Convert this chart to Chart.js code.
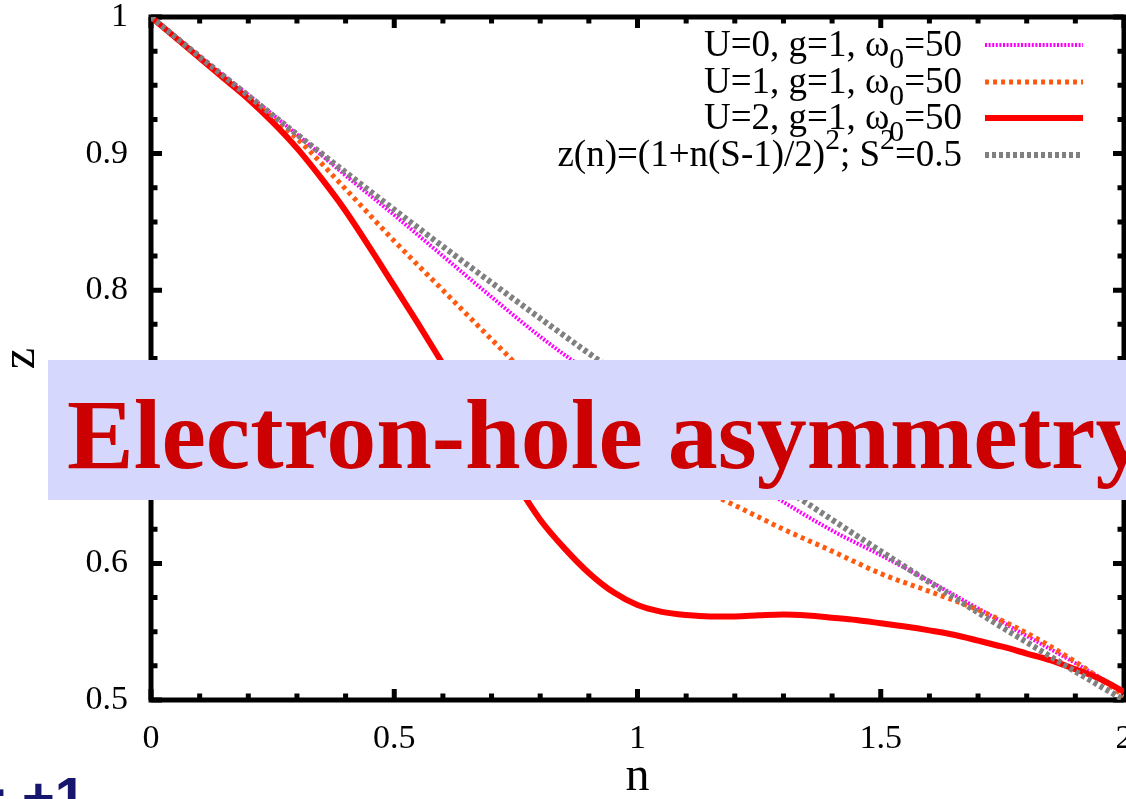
<!DOCTYPE html>
<html>
<head>
<meta charset="utf-8">
<script src="https://cdn.jsdelivr.net/npm/chart.js@4/dist/chart.umd.min.js"></script>
<style>
  html, body { margin: 0; padding: 0; background: #ffffff; overflow: hidden; }
  #wrap { position: relative; width: 1126px; height: 799px; }
  canvas { display: block; }
</style>
</head>
<body>
<div id="wrap"><canvas id="chart" width="1126" height="799"></canvas></div>
<script>
// Filling n on a common grid
const nGrid = [0.0, 0.1, 0.2, 0.3, 0.4, 0.5, 0.6, 0.7, 0.8, 0.9, 1.0,
               1.1, 1.2, 1.3, 1.4, 1.5, 1.6, 1.7, 1.8, 1.9, 2.0];

// Quasiparticle weight z(n), U = 0
const zU0 = [1.000, 0.971, 0.943, 0.914, 0.884, 0.855, 0.825, 0.795, 0.766, 0.740, 0.716,
             0.692, 0.668, 0.645, 0.624, 0.606, 0.587, 0.567, 0.547, 0.527, 0.506];

// U = 1
const zU1 = [1.000, 0.970, 0.941, 0.911, 0.874, 0.836, 0.800, 0.764, 0.729, 0.700, 0.6765,
             0.659, 0.6425, 0.625, 0.609, 0.5925, 0.5795, 0.566, 0.549, 0.528, 0.503];

// z(n) = (1 + n(S-1)/2)^2 with S^2 = 0.5
const zFit = [1.00000, 0.97093, 0.94228, 0.91406, 0.88627, 0.85891, 0.83198, 0.80548, 0.77941, 0.75377, 0.72855,
              0.70377, 0.67941, 0.65548, 0.63199, 0.60891, 0.58627, 0.56406, 0.54228, 0.52092, 0.50000];

// U = 2 on a finer grid (sharp knee near half filling)
const nFine = [0.00, 0.05, 0.10, 0.15, 0.20, 0.25, 0.30, 0.35, 0.40, 0.45, 0.50,
               0.55, 0.60, 0.65, 0.70, 0.75, 0.80, 0.85, 0.90, 0.95, 1.00,
               1.05, 1.10, 1.15, 1.20, 1.25, 1.30, 1.35, 1.40, 1.45, 1.50,
               1.55, 1.60, 1.65, 1.70, 1.75, 1.80, 1.85, 1.90, 1.95, 2.00];
const zU2 = [1.000, 0.985, 0.970, 0.955, 0.940, 0.923, 0.904, 0.882, 0.858, 0.831, 0.803,
             0.775, 0.746, 0.717, 0.688, 0.659, 0.632, 0.611, 0.593, 0.579, 0.5695,
             0.5645, 0.5622, 0.5612, 0.5612, 0.5620, 0.5626, 0.5618, 0.5602, 0.5585, 0.5562,
             0.5538, 0.5510, 0.5478, 0.5435, 0.5390, 0.5340, 0.5290, 0.5225, 0.5155, 0.5060];

// Axis tick labels
const xTickLabels = ['0', '0.5', '1', '1.5', '2'];
const yTickLabels = ['0.5', '0.6', '0.7', '0.8', '0.9', '1'];

// Legend entries: [text, shift] with shift -1 = subscript, 1 = superscript
const legendRows = [
  [['U=0, g=1, \u03c9', 0], ['0', -1], ['=50', 0]],
  [['U=1, g=1, \u03c9', 0], ['0', -1], ['=50', 0]],
  [['U=2, g=1, \u03c9', 0], ['0', -1], ['=50', 0]],
  [['z(n)=(1+n(S-1)/2)', 0], ['2', 1], ['; S', 0], ['2', 1], ['=0.5', 0]]
];

const overlayTitle = 'Electron-hole asymmetry';

function pts(xs, ys) { return xs.map((x, i) => ({ x: x, y: ys[i] })); }

const SERIF = '"Liberation Serif", "Times New Roman", serif';

const datasets = [
  { data: pts(nGrid, zU0), borderColor: '#ff00ff', borderWidth: 4, borderDash: [2, 1.6], order: 3 },
  { data: pts(nGrid, zU1), borderColor: '#ff5a0f', borderWidth: 5, borderDash: [4, 4], order: 2 },
  { data: pts(nFine, zU2), borderColor: '#ff0000', borderWidth: 6, borderDash: [], order: 1 },
  { data: pts(nGrid, zFit), borderColor: '#808080', borderWidth: 6, borderDash: [4, 3], order: 0 }
].map(d => Object.assign({
  pointRadius: 0, fill: false, cubicInterpolationMode: 'monotone', borderCapStyle: 'butt'
}, d));

// Frame, inward ticks, legend and the banner across the plot
const decorations = {
  id: 'decorations',
  beforeDatasetsDraw(chart) {
    const { ctx, chartArea: a, scales: { x, y } } = chart;
    ctx.save();
    ctx.strokeStyle = '#000';
    ctx.lineWidth = 5;
    ctx.strokeRect(a.left, a.top, a.right - a.left, a.bottom - a.top);
    ctx.beginPath();
    for (let i = 0; i <= 20; i++) {
      const v = i * 0.1;
      const px = x.getPixelForValue(v);
      const len = (i % 5 === 0) ? 11 : 6.5;
      ctx.moveTo(px, a.bottom); ctx.lineTo(px, a.bottom - len);
      ctx.moveTo(px, a.top); ctx.lineTo(px, a.top + len);
    }
    for (let i = 0; i <= 20; i++) {
      const v = 0.5 + i * 0.025;
      const py = y.getPixelForValue(v);
      const len = (i % 4 === 0) ? 11 : 6.5;
      ctx.moveTo(a.left, py); ctx.lineTo(a.left + len, py);
      ctx.moveTo(a.right, py); ctx.lineTo(a.right - len, py);
    }
    ctx.stroke();
    ctx.restore();
  },
  afterDraw(chart) {
    const { ctx } = chart;
    ctx.save();

    // legend
    const size = 37;
    const small = size * 0.8;
    const right = 962, s0 = 985, s1 = 1083;
    const rowY = [45, 82, 118, 155];
    legendRows.forEach((row, r) => {
      const base = rowY[r] + 11;
      let total = 0;
      row.forEach(([t, sh]) => {
        ctx.font = (sh ? small : size) + 'px ' + SERIF;
        total += ctx.measureText(t).width;
      });
      let cx = right - total;
      ctx.fillStyle = '#000';
      ctx.textBaseline = 'alphabetic';
      ctx.textAlign = 'left';
      row.forEach(([t, sh]) => {
        ctx.font = (sh ? small : size) + 'px ' + SERIF;
        const dy = sh === -1 ? size * 0.33 : (sh === 1 ? -size * 0.45 : 0);
        ctx.fillText(t, cx, base + dy);
        cx += ctx.measureText(t).width;
      });
      const ds = chart.data.datasets[r];
      ctx.strokeStyle = ds.borderColor;
      ctx.lineWidth = ds.borderWidth;
      ctx.setLineDash(ds.borderDash);
      ctx.lineCap = 'butt';
      ctx.beginPath();
      ctx.moveTo(s0, rowY[r]);
      ctx.lineTo(s1, rowY[r]);
      ctx.stroke();
      ctx.setLineDash([]);
    });

    // banner
    ctx.fillStyle = '#d5d7fc';
    ctx.fillRect(48, 360, 1126 - 48, 140);
    ctx.fillStyle = '#cc0000';
    ctx.font = 'bold 100px ' + SERIF;
    ctx.textAlign = 'left';
    ctx.textBaseline = 'alphabetic';
    ctx.fillText(overlayTitle, 67, 468);

    // partly visible line of text below the plot
    ctx.fillStyle = '#16166e';
    ctx.font = 'bold 56px "Liberation Sans", Arial, sans-serif';
    ctx.fillText('-', -13, 807);
    ctx.fillText('+1', 22, 816);
    ctx.restore();
  }
};

new Chart(document.getElementById('chart'), {
  type: 'line',
  data: { datasets: datasets },
  options: {
    responsive: false,
    devicePixelRatio: 1,
    animation: false,
    layout: { padding: { top: 17, right: 2, left: 0, bottom: 0 } },
    plugins: { legend: { display: false }, tooltip: { enabled: false } },
    scales: {
      x: {
        type: 'linear', min: 0, max: 2,
        grid: { display: false, drawTicks: false },
        border: { display: false },
        ticks: {
          stepSize: 0.5, padding: 19, color: '#000', maxRotation: 0,
          font: { family: SERIF, size: 34 },
          callback: (v) => { const i = Math.round(v / 0.5); return xTickLabels[i]; }
        },
        title: {
          display: true, text: 'n', color: '#000',
          font: { family: SERIF, size: 48, lineHeight: 0.9 },
          padding: { top: 0, bottom: 0 }
        },
        afterFit(s) { s.height = 99; s.paddingLeft = 0; s.paddingRight = 0; }
      },
      y: {
        type: 'linear', min: 0.5, max: 1,
        grid: { display: false, drawTicks: false },
        border: { display: false },
        ticks: {
          stepSize: 0.1, padding: 23, color: '#000',
          font: { family: SERIF, size: 34 },
          callback: (v) => { const i = Math.round((v - 0.5) / 0.1); return yTickLabels[i]; }
        },
        title: {
          display: true, text: 'z', color: '#000',
          font: { family: SERIF, size: 48, lineHeight: 0.9 },
          padding: { top: 0, bottom: 0 }
        },
        afterFit(s) { s.width = 151; s.paddingTop = 0; s.paddingBottom = 0; }
      }
    }
  },
  plugins: [decorations]
});
</script>
</body>
</html>
